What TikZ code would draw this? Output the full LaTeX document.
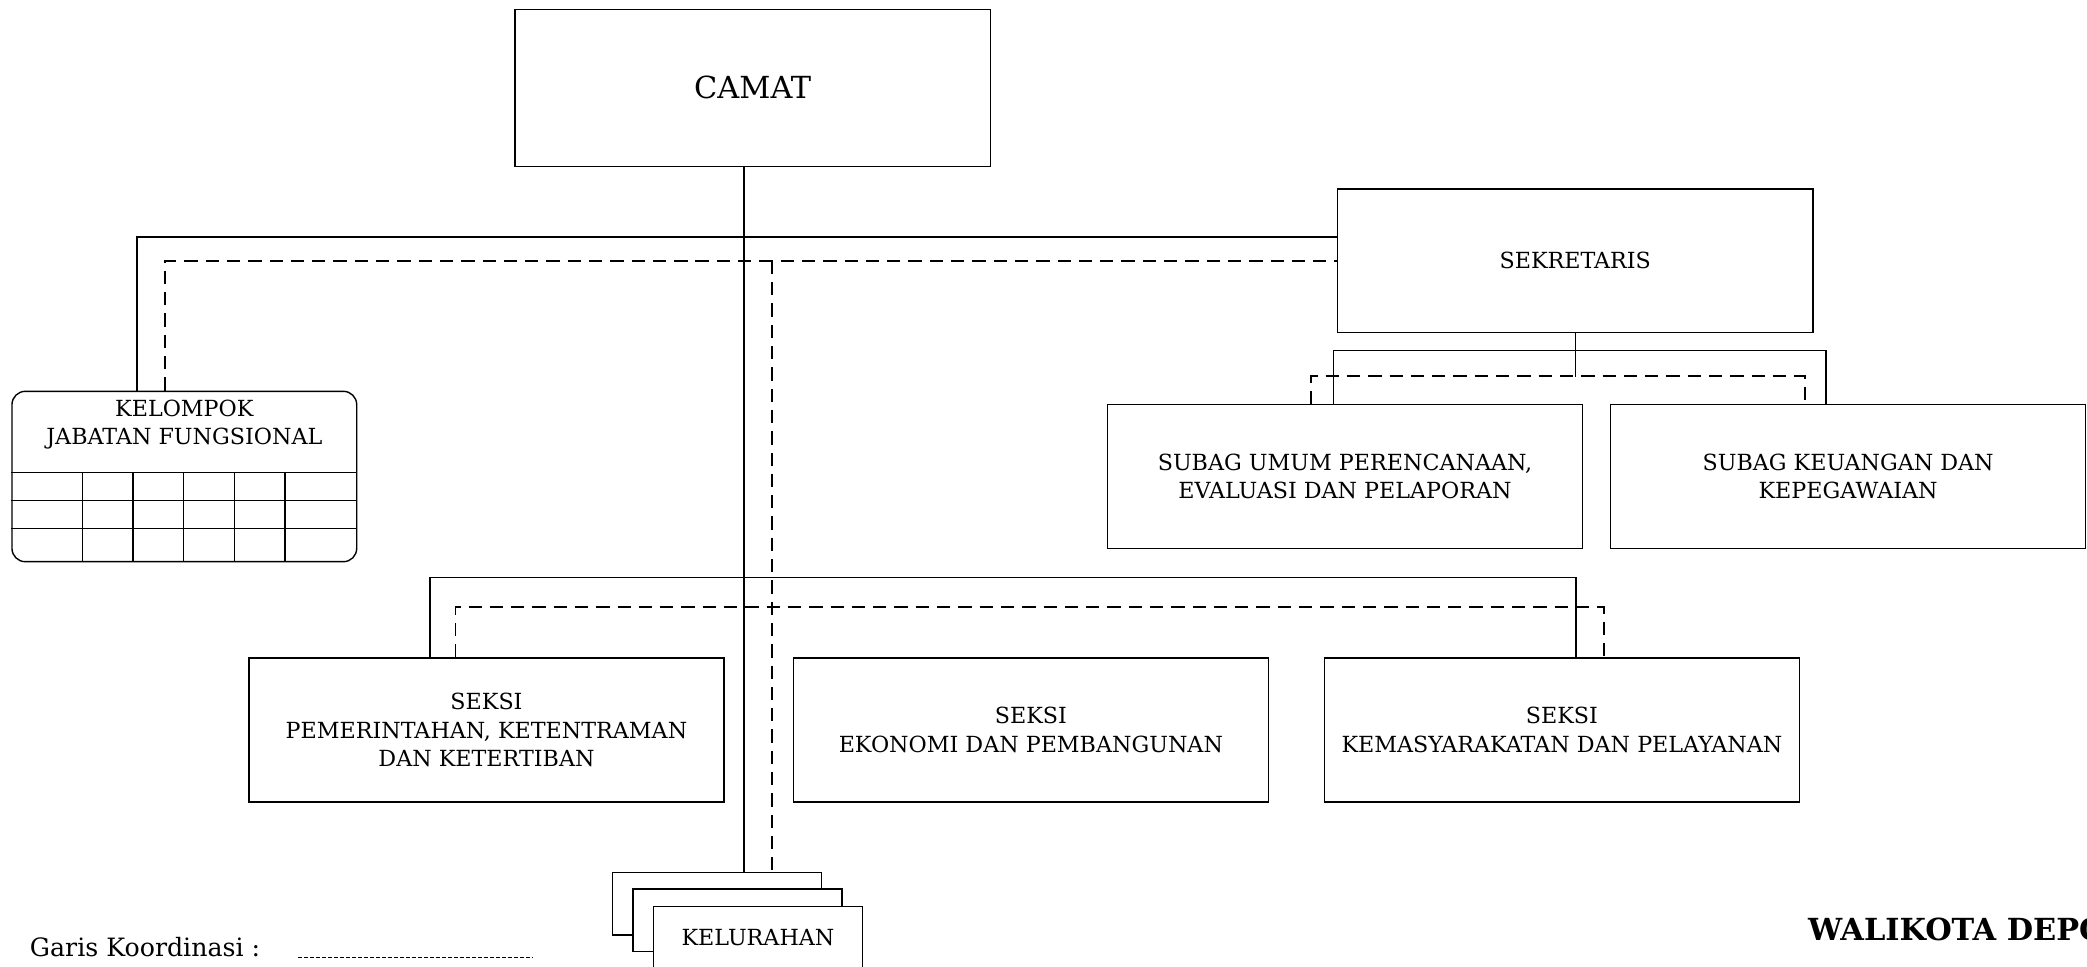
\documentclass[tikz,border=0pt]{standalone}
\usepackage{fontspec}
\setmainfont{DejaVu Serif}
\usepackage{tikz}

\begin{document}
\begin{tikzpicture}[x=0.2mm,y=-0.2mm,line width=0.6pt,
  box/.style={draw,minimum width=71.4mm,minimum height=21.6mm,inner sep=0pt,align=center,font=\fontsize{9.5}{12.3}\selectfont},
  kel/.style={draw,fill=white,minimum width=31.4mm,minimum height=9.4mm,inner sep=0pt,font=\fontsize{9.5}{12.3}\selectfont},
  koordinasi/.style={dash pattern=on 2mm off 1.2mm}]
\useasboundingbox (0,0) rectangle (1568,726.5);

% pimpinan
\node[box,minimum height=23.6mm,font=\fontsize{13}{15}\selectfont] (camat) at (565.5,66) {CAMAT};
\node[box] (sekretaris) at (1183.5,196) {SEKRETARIS};

\node[box] (umum) at (1010.5,358) {SUBAG UMUM PERENCANAAN,\\EVALUASI DAN PELAPORAN};
\node[box] (keuangan) at (1388.5,358) {SUBAG KEUANGAN DAN\\KEPEGAWAIAN};

\node[box] (pemerintahan) at (365.5,548.5) {SEKSI\\PEMERINTAHAN, KETENTRAMAN\\DAN KETERTIBAN};
\node[box] (ekonomi) at (774.5,548.5) {SEKSI\\EKONOMI DAN PEMBANGUNAN};
\node[box] (kemasyarakatan) at (1173.5,548.5) {SEKSI\\KEMASYARAKATAN DAN PELAYANAN};

% kelompok jabatan fungsional
\node[draw,rounded corners=2mm,minimum width=51.8mm,minimum height=25.6mm] (kjf) at (138.5,358) {};
\node[align=center,inner sep=0pt,font=\fontsize{9.5}{12}\selectfont] (kjf label) at (138.5,319) {KELOMPOK\\JABATAN FUNGSIONAL};
\foreach \y in {355,376,397}
  \draw (kjf.west |- 0,\y) -- (kjf.east |- 0,\y);
\foreach \x in {62,100,138,176,214}
  \draw (\x,355) -- (\x,422);

% kelurahan
\node[kel] (kel3) at (538.5,679) {};
\node[kel] (kel2) at (554,691.5) {};
\node[kel] (kel1) at (569.5,704.5) {KELURAHAN};

% garis komando
\coordinate (trunk) at (559,0);
\coordinate (koord) at (580,0);
\draw (camat.south -| trunk) -- (trunk |- kel3.north);
\draw[koordinasi] (sekretaris.west -| koord) -- (koord |- kel3.north);

\draw ([xshift=-7.1mm]kjf.north) |- ([yshift=3.6mm]sekretaris.west);
\draw[koordinasi] ([xshift=-2.9mm]kjf.north) |- (sekretaris.west);

\draw (sekretaris.south) -- ++(0,33);
\draw ([xshift=-1.7mm]umum.north) -- ++(0,-40) -| ([xshift=-3.3mm]keuangan.north);
\draw[koordinasi] ([xshift=-5.1mm]umum.north) -- ++(0,-21) -| ([xshift=-6.5mm]keuangan.north);

\draw ([xshift=-8.5mm]pemerintahan.north) -- ++(0,-60) -| ([xshift=2.1mm]kemasyarakatan.north);
\draw[koordinasi] ([xshift=-4.7mm]pemerintahan.north) -- ++(0,-38) -| ([xshift=6.3mm]kemasyarakatan.north);

% keterangan
\node[anchor=west,inner sep=0pt,font=\fontsize{10.8}{13}\selectfont] (legend) at (22,711.5) {Garis Koordinasi :};
\coordinate (legend end) at (400,719);
\draw[line width=0.3pt,dash pattern=on 0.6mm off 0.3mm] (224,719) -- (legend end);

\node[anchor=west,inner sep=0pt,font=\fontsize{13}{15}\selectfont\bfseries] (walikota) at (1358,698.5) {WALIKOTA DEPOK};
\end{tikzpicture}
\end{document}
